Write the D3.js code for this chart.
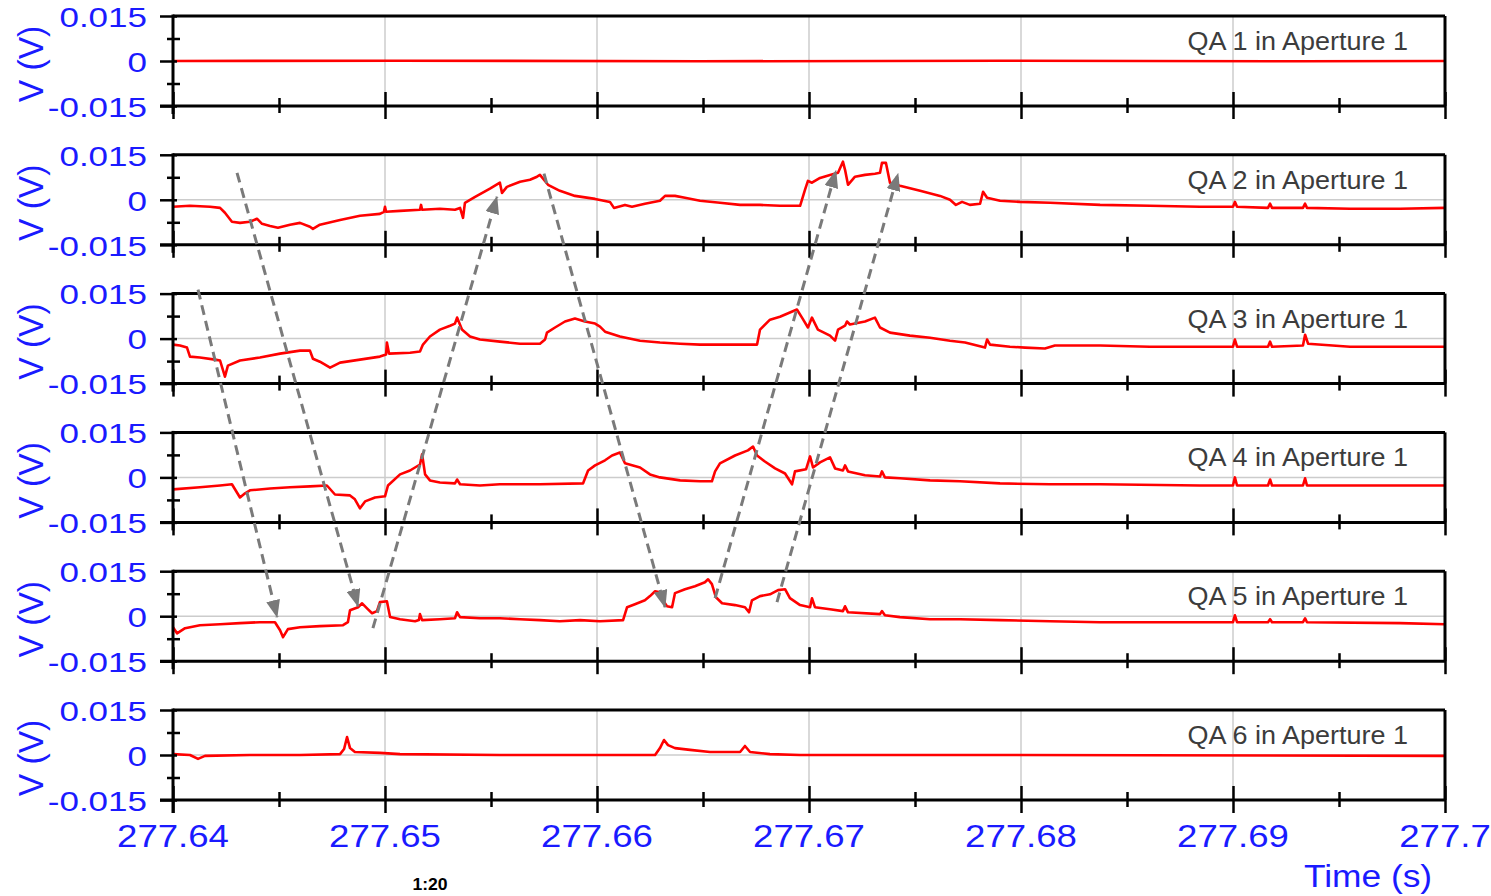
<!DOCTYPE html>
<html>
<head>
<meta charset="utf-8">
<script src="https://cdn.jsdelivr.net/npm/d3@7"></script>
<style>
  html, body { margin: 0; padding: 0; background: #fff; overflow: hidden; }
  svg { display: block; font-family: "Liberation Sans", Arial, sans-serif; }
</style>
</head>
<body>
<svg id="chart" width="1491" height="896"></svg>
<script>
// ---- data -------------------------------------------------------------
const timeDomain = [277.64, 277.70];
const timeMajorTicks = [277.64, 277.65, 277.66, 277.67, 277.68, 277.69, 277.70];
const timeMinorTicks = [277.645, 277.655, 277.665, 277.675, 277.685, 277.695];
const timeTickLabels = ["277.64", "277.65", "277.66", "277.67", "277.68", "277.69", "277.7"];
const voltDomain = [-0.015, 0.015];
const voltMajorTicks = [-0.015, 0, 0.015];
const voltMinorTicks = [-0.0075, 0.0075];
const voltTickLabels = ["-0.015", "0", "0.015"];
const panelNames = ["QA 1 in Aperture 1", "QA 2 in Aperture 1", "QA 3 in Aperture 1",
                    "QA 4 in Aperture 1", "QA 5 in Aperture 1", "QA 6 in Aperture 1"];
const yAxisTitle = "V (V)";
const xAxisTitle = "Time (s)";
const scaleNote = "1:20";

// probe voltages, [time (s), volts]
const qa1 = [
  [277.64000, 0.0000], [277.65071, 0.0001], [277.66486, -0.0001], [277.67901, 0.0001],
  [277.69316, -0.0001], [277.70000, 0.0000]
];
const qa2 = [
  [277.64000, -0.0023], [277.64080, -0.0020], [277.64175, -0.0023], [277.64222, -0.0027],
  [277.64245, -0.0043], [277.64278, -0.0073], [277.64316, -0.0077], [277.64363, -0.0073],
  [277.64396, -0.0063], [277.64420, -0.0080], [277.64458, -0.0087], [277.64495, -0.0093],
  [277.64552, -0.0083], [277.64599, -0.0077], [277.64646, -0.0090], [277.64660, -0.0097],
  [277.64693, -0.0083], [277.64788, -0.0067], [277.64882, -0.0053], [277.64976, -0.0047],
  [277.64995, -0.0040], [277.65000, -0.0023], [277.65005, -0.0040], [277.65071, -0.0037],
  [277.65165, -0.0033], [277.65170, -0.0017], [277.65175, -0.0033], [277.65259, -0.0030],
  [277.65330, -0.0033], [277.65354, -0.0027], [277.65368, -0.0060], [277.65377, -0.0010],
  [277.65425, 0.0010], [277.65495, 0.0037], [277.65542, 0.0057], [277.65552, 0.0023],
  [277.65575, 0.0043], [277.65637, 0.0060], [277.65684, 0.0067], [277.65717, 0.0077],
  [277.65731, 0.0083], [277.65769, 0.0050], [277.65825, 0.0030], [277.65896, 0.0013],
  [277.65991, 0.0003], [277.66061, -0.0007], [277.66080, -0.0027], [277.66132, -0.0017],
  [277.66165, -0.0023], [277.66226, -0.0013], [277.66297, -0.0003], [277.66321, 0.0013],
  [277.66368, 0.0013], [277.66415, 0.0007], [277.66486, -0.0003], [277.66580, -0.0010],
  [277.66675, -0.0017], [277.66769, -0.0017], [277.66863, -0.0020], [277.66958, -0.0020],
  [277.66981, 0.0033], [277.66995, 0.0063], [277.67014, 0.0057], [277.67052, 0.0073],
  [277.67099, 0.0083], [277.67137, 0.0090], [277.67160, 0.0127], [277.67170, 0.0100],
  [277.67184, 0.0050], [277.67217, 0.0077], [277.67264, 0.0083], [277.67311, 0.0087],
  [277.67335, 0.0090], [277.67344, 0.0123], [277.67363, 0.0123], [277.67382, 0.0057],
  [277.67429, 0.0047], [277.67524, 0.0030], [277.67618, 0.0013], [277.67665, 0.0000],
  [277.67693, -0.0017], [277.67722, -0.0007], [277.67759, -0.0017], [277.67807, -0.0013],
  [277.67821, 0.0027], [277.67840, 0.0007], [277.67901, -0.0003], [277.67995, -0.0007],
  [277.68137, -0.0010], [277.68373, -0.0017], [277.68608, -0.0020], [277.68844, -0.0023],
  [277.69000, -0.0023], [277.69009, -0.0007], [277.69019, -0.0023], [277.69165, -0.0027],
  [277.69175, -0.0013], [277.69184, -0.0027], [277.69330, -0.0027], [277.69340, -0.0013],
  [277.69349, -0.0027], [277.69552, -0.0030], [277.69788, -0.0030], [277.70000, -0.0027]
];
const qa3 = [
  [277.64000, -0.0020], [277.64033, -0.0023], [277.64066, -0.0030], [277.64080, -0.0060],
  [277.64127, -0.0063], [277.64198, -0.0070], [277.64222, -0.0073], [277.64245, -0.0127],
  [277.64259, -0.0090], [277.64316, -0.0073], [277.64410, -0.0063], [277.64505, -0.0050],
  [277.64599, -0.0040], [277.64646, -0.0040], [277.64660, -0.0067], [277.64693, -0.0077],
  [277.64741, -0.0097], [277.64788, -0.0080], [277.64882, -0.0070], [277.64976, -0.0060],
  [277.65005, -0.0053], [277.65009, -0.0013], [277.65019, -0.0050], [277.65118, -0.0047],
  [277.65165, -0.0043], [277.65179, -0.0020], [277.65212, 0.0007], [277.65259, 0.0030],
  [277.65307, 0.0043], [277.65330, 0.0050], [277.65340, 0.0070], [277.65363, 0.0030],
  [277.65401, 0.0007], [277.65448, -0.0003], [277.65542, -0.0010], [277.65637, -0.0017],
  [277.65731, -0.0017], [277.65755, -0.0003], [277.65764, 0.0020], [277.65802, 0.0037],
  [277.65849, 0.0057], [277.65896, 0.0067], [277.65943, 0.0057], [277.65991, 0.0050],
  [277.66014, 0.0040], [277.66038, 0.0023], [277.66108, 0.0007], [277.66203, -0.0007],
  [277.66297, -0.0013], [277.66392, -0.0017], [277.66486, -0.0020], [277.66627, -0.0020],
  [277.66755, -0.0020], [277.66769, 0.0030], [277.66816, 0.0063], [277.66863, 0.0073],
  [277.66910, 0.0087], [277.66943, 0.0097], [277.66967, 0.0070], [277.66995, 0.0037],
  [277.67014, 0.0070], [277.67042, 0.0030], [277.67099, 0.0010], [277.67123, -0.0007],
  [277.67137, 0.0030], [277.67170, 0.0043], [277.67179, 0.0057], [277.67193, 0.0047],
  [277.67264, 0.0057], [277.67311, 0.0070], [277.67335, 0.0037], [277.67382, 0.0020],
  [277.67476, 0.0010], [277.67571, 0.0003], [277.67665, -0.0007], [277.67736, -0.0013],
  [277.67830, -0.0030], [277.67840, -0.0003], [277.67854, -0.0020], [277.67948, -0.0027],
  [277.68019, -0.0030], [277.68113, -0.0033], [277.68160, -0.0023], [277.68373, -0.0023],
  [277.68608, -0.0027], [277.68844, -0.0027], [277.69000, -0.0027], [277.69009, -0.0003],
  [277.69019, -0.0027], [277.69165, -0.0027], [277.69175, -0.0010], [277.69184, -0.0027],
  [277.69330, -0.0023], [277.69340, 0.0013], [277.69354, -0.0017], [277.69552, -0.0027],
  [277.69788, -0.0027], [277.70000, -0.0027]
];
const qa4 = [
  [277.64000, -0.0040], [277.64127, -0.0033], [277.64222, -0.0027], [277.64278, -0.0023],
  [277.64316, -0.0067], [277.64340, -0.0053], [277.64363, -0.0043], [277.64458, -0.0037],
  [277.64552, -0.0033], [277.64646, -0.0030], [277.64726, -0.0027], [277.64764, -0.0057],
  [277.64835, -0.0060], [277.64858, -0.0073], [277.64882, -0.0103], [277.64906, -0.0080],
  [277.64953, -0.0067], [277.65000, -0.0063], [277.65014, -0.0027], [277.65071, 0.0010],
  [277.65118, 0.0023], [277.65165, 0.0043], [277.65175, 0.0077], [277.65189, 0.0010],
  [277.65212, -0.0010], [277.65259, -0.0017], [277.65330, -0.0020], [277.65340, -0.0007],
  [277.65354, -0.0023], [277.65448, -0.0027], [277.65542, -0.0023], [277.65731, -0.0023],
  [277.65934, -0.0020], [277.65958, 0.0023], [277.65991, 0.0040], [277.66038, 0.0057],
  [277.66071, 0.0073], [277.66108, 0.0083], [277.66132, 0.0047], [277.66203, 0.0033],
  [277.66250, 0.0010], [277.66297, 0.0000], [277.66392, -0.0010], [277.66486, -0.0013],
  [277.66542, -0.0013], [277.66557, 0.0020], [277.66580, 0.0047], [277.66651, 0.0073],
  [277.66712, 0.0090], [277.66736, 0.0103], [277.66755, 0.0073], [277.66792, 0.0053],
  [277.66840, 0.0030], [277.66887, 0.0013], [277.66920, -0.0023], [277.66934, 0.0020],
  [277.66986, 0.0027], [277.67005, 0.0070], [277.67019, 0.0033], [277.67052, 0.0050],
  [277.67099, 0.0067], [277.67123, 0.0030], [277.67160, 0.0023], [277.67170, 0.0040],
  [277.67184, 0.0020], [277.67264, 0.0007], [277.67335, 0.0003], [277.67344, 0.0020],
  [277.67358, 0.0000], [277.67429, -0.0003], [277.67571, -0.0010], [277.67712, -0.0013],
  [277.67901, -0.0020], [277.68137, -0.0023], [277.68373, -0.0023], [277.68844, -0.0027],
  [277.69000, -0.0027], [277.69009, 0.0000], [277.69019, -0.0027], [277.69165, -0.0027],
  [277.69175, -0.0007], [277.69184, -0.0027], [277.69330, -0.0027], [277.69340, -0.0003],
  [277.69349, -0.0027], [277.70000, -0.0027]
];
const qa5 = [
  [277.64000, -0.0037], [277.64019, -0.0057], [277.64057, -0.0040], [277.64127, -0.0030],
  [277.64222, -0.0027], [277.64316, -0.0023], [277.64410, -0.0020], [277.64481, -0.0020],
  [277.64505, -0.0047], [277.64519, -0.0070], [277.64542, -0.0043], [277.64599, -0.0037],
  [277.64693, -0.0033], [277.64802, -0.0030], [277.64825, -0.0020], [277.64835, 0.0020],
  [277.64873, 0.0030], [277.64892, 0.0043], [277.64920, 0.0023], [277.64939, 0.0010],
  [277.64962, 0.0017], [277.64976, 0.0047], [277.65009, 0.0050], [277.65024, -0.0003],
  [277.65071, -0.0010], [277.65142, -0.0017], [277.65160, -0.0013], [277.65165, 0.0007],
  [277.65175, -0.0013], [277.65259, -0.0010], [277.65330, -0.0007], [277.65340, 0.0013],
  [277.65354, -0.0003], [277.65448, -0.0007], [277.65542, -0.0007], [277.65637, -0.0010],
  [277.65731, -0.0013], [277.65825, -0.0017], [277.65920, -0.0013], [277.66014, -0.0017],
  [277.66123, -0.0013], [277.66142, 0.0030], [277.66179, 0.0040], [277.66226, 0.0053],
  [277.66250, 0.0067], [277.66274, 0.0083], [277.66297, 0.0080], [277.66311, 0.0053],
  [277.66330, 0.0033], [277.66354, 0.0030], [277.66368, 0.0077], [277.66415, 0.0090],
  [277.66462, 0.0100], [277.66509, 0.0113], [277.66524, 0.0123], [277.66542, 0.0107],
  [277.66561, 0.0063], [277.66590, 0.0043], [277.66651, 0.0037], [277.66698, 0.0030],
  [277.66717, 0.0013], [277.66731, 0.0053], [277.66769, 0.0067], [277.66816, 0.0073],
  [277.66854, 0.0087], [277.66887, 0.0090], [277.66910, 0.0060], [277.66958, 0.0037],
  [277.67005, 0.0030], [277.67014, 0.0060], [277.67028, 0.0030], [277.67099, 0.0023],
  [277.67160, 0.0017], [277.67170, 0.0033], [277.67184, 0.0013], [277.67335, 0.0007],
  [277.67344, 0.0017], [277.67358, 0.0003], [277.67429, -0.0003], [277.67571, -0.0010],
  [277.67712, -0.0010], [277.67901, -0.0013], [277.68137, -0.0017], [277.68373, -0.0020],
  [277.68844, -0.0020], [277.69000, -0.0020], [277.69009, 0.0003], [277.69019, -0.0020],
  [277.69165, -0.0020], [277.69175, -0.0010], [277.69184, -0.0020], [277.69330, -0.0020],
  [277.69340, -0.0007], [277.69349, -0.0020], [277.69788, -0.0023], [277.70000, -0.0027]
];
const qa6 = [
  [277.64000, 0.0003], [277.64080, 0.0000], [277.64118, -0.0013], [277.64151, -0.0003],
  [277.64363, 0.0000], [277.64599, 0.0000], [277.64788, 0.0003], [277.64807, 0.0020],
  [277.64821, 0.0060], [277.64835, 0.0023], [277.64858, 0.0010], [277.64976, 0.0007],
  [277.65071, 0.0003], [277.65542, 0.0000], [277.66014, 0.0000], [277.66274, 0.0000],
  [277.66297, 0.0023], [277.66316, 0.0050], [277.66335, 0.0033], [277.66368, 0.0023],
  [277.66439, 0.0017], [277.66533, 0.0010], [277.66675, 0.0010], [277.66698, 0.0030],
  [277.66722, 0.0010], [277.66816, 0.0003], [277.66958, 0.0000], [277.67901, 0.0000],
  [277.70000, -0.0003]
];
const traces = [qa1, qa2, qa3, qa4, qa5, qa6];

// dashed propagation arrows: [time, panel index, volts] -> [time, panel index, volts]
const arrowStarts = [
  [277.64118, 2, 0.0163], [277.64302, 1, 0.0090], [277.64943, 4, -0.0040],
  [277.65750, 1, 0.0087], [277.66557, 4, 0.0060], [277.66849, 4, 0.0047]
];
const arrowEnds = [
  [277.64491, 4, -0.0003], [277.64873, 4, 0.0033], [277.65528, 1, 0.0010],
  [277.66321, 4, 0.0030], [277.67127, 1, 0.0097], [277.67420, 1, 0.0087]
];

// ---- layout -----------------------------------------------------------
const svg = d3.select("#chart");
const plotLeft = 173, plotRight = 1445;
const panelTop0 = 16, panelStep = 138.8, panelHeight = 90;
const blue = "#1a1aff";

const x = d3.scaleLinear().domain(timeDomain).range([plotLeft, plotRight]);
const yScales = panelNames.map((_, i) => {
  const top = panelTop0 + i * panelStep;
  return d3.scaleLinear().domain(voltDomain).range([top + panelHeight, top]);
});

// horizontally stretched text helper
function stretchedText(parent, tx, ty, str, size, sx, opts = {}) {
  return parent.append("text")
    .attr("transform", `translate(${tx},${ty}) scale(${sx},${opts.sy || 1})`)
    .attr("font-size", size)
    .attr("text-anchor", opts.anchor || "start")
    .attr("dominant-baseline", opts.baseline || "alphabetic")
    .attr("fill", opts.fill || blue)
    .attr("font-weight", opts.weight || "normal")
    .text(str);
}

const line = (y) => d3.line().x(d => x(d[0])).y(d => y(d[1]));

panelNames.forEach((name, i) => {
  const y = yScales[i];
  const top = y.range()[1], bottom = y.range()[0];
  const g = svg.append("g");

  // grid
  g.selectAll("line.vgrid").data(timeMajorTicks.slice(1, -1)).join("line")
    .attr("x1", d => x(d)).attr("x2", d => x(d))
    .attr("y1", top).attr("y2", bottom)
    .attr("stroke", "#cccccc").attr("stroke-width", 1.5);
  g.append("line")
    .attr("x1", plotLeft).attr("x2", plotRight)
    .attr("y1", y(0)).attr("y2", y(0))
    .attr("stroke", "#cccccc").attr("stroke-width", 1.5);

  // panel label
  stretchedText(g, 1408, top + 34, name, 25, 1.08, { anchor: "end", fill: "#3c3c3c" });

  // trace
  g.append("path").datum(traces[i])
    .attr("d", line(y))
    .attr("fill", "none")
    .attr("stroke", "#ff0000")
    .attr("stroke-width", 2.6)
    .attr("stroke-linejoin", "round");

  // frame
  g.append("line").attr("x1", plotLeft).attr("x2", plotRight).attr("y1", top).attr("y2", top)
    .attr("stroke", "#000").attr("stroke-width", 3);
  g.append("line").attr("x1", plotLeft - 13).attr("x2", plotRight).attr("y1", bottom).attr("y2", bottom)
    .attr("stroke", "#000").attr("stroke-width", 3);
  g.append("line").attr("x1", plotRight).attr("x2", plotRight).attr("y1", top).attr("y2", bottom)
    .attr("stroke", "#000").attr("stroke-width", 3);

  // left axis
  const yAxisMajor = d3.axisLeft(y).tickValues(voltMajorTicks).tickSize(13).tickFormat("");
  const yAxisMinor = d3.axisLeft(y).tickValues(voltMinorTicks).tickSize(6).tickFormat("");
  const ga = g.append("g").attr("transform", `translate(${plotLeft},0)`);
  ga.call(yAxisMajor);
  ga.append("g").call(yAxisMinor);
  ga.selectAll(".domain").remove();
  ga.selectAll(".tick line").attr("stroke", "#000").attr("stroke-width", 2.5)
    .attr("x1", function () { return Math.abs(+d3.select(this).attr("x2")) > 8 ? 4 : 7; });
  g.append("line").attr("x1", plotLeft).attr("x2", plotLeft).attr("y1", top - 1.5)
    .attr("y2", i === panelNames.length - 1 ? bottom + 13 : bottom + 8)
    .attr("stroke", "#000").attr("stroke-width", 3);

  // bottom axis ticks (crossing)
  const gx = g.append("g").attr("transform", `translate(0,${bottom})`);
  gx.call(d3.axisBottom(x).tickValues(timeMajorTicks).tickSize(13).tickFormat(""));
  gx.append("g").call(d3.axisBottom(x).tickValues(timeMinorTicks).tickSize(7).tickFormat(""));
  gx.selectAll(".domain").remove();
  gx.selectAll(".tick line").attr("stroke", "#000").attr("stroke-width", 2.5)
    .attr("y1", function () { return -(+d3.select(this).attr("y2")) - 1; });

  // volt tick labels
  voltMajorTicks.forEach((v, k) => {
    stretchedText(g, 147, y(v) + 1, voltTickLabels[k], 28, 1.25, { anchor: "end", baseline: "central" });
  });

  // y axis title
  g.append("text")
    .attr("transform", `translate(31,${y(0) + 3}) rotate(-90) scale(1.2,1.25)`)
    .attr("font-size", 28)
    .attr("text-anchor", "middle")
    .attr("dominant-baseline", "central")
    .attr("fill", blue)
    .text(yAxisTitle);
});

// time tick labels below the last panel
const lastBottom = yScales[yScales.length - 1].range()[0];
timeMajorTicks.forEach((t, k) => {
  stretchedText(svg, x(t), lastBottom + 47, timeTickLabels[k], 31, 1.18, { anchor: "middle" });
});
stretchedText(svg, 1368, lastBottom + 87, xAxisTitle, 31, 1.14, { anchor: "middle" });
stretchedText(svg, 430, lastBottom + 90, scaleNote, 16, 1.1, { anchor: "middle", fill: "#000", weight: "bold" });

// dashed arrows
svg.append("defs").append("marker")
  .attr("id", "head").attr("markerUnits", "userSpaceOnUse")
  .attr("viewBox", "0 0 18 14").attr("markerWidth", 18).attr("markerHeight", 14)
  .attr("refX", 17).attr("refY", 7).attr("orient", "auto")
  .append("path").attr("d", "M0,0 L18,7 L0,14 Z").attr("fill", "#7a7a7a");

const pt = (p) => [x(p[0]), yScales[p[1]](p[2])];
svg.append("g").selectAll("line").data(d3.range(arrowStarts.length)).join("line")
  .attr("x1", k => pt(arrowStarts[k])[0]).attr("y1", k => pt(arrowStarts[k])[1])
  .attr("x2", k => pt(arrowEnds[k])[0]).attr("y2", k => pt(arrowEnds[k])[1])
  .attr("stroke", "#7a7a7a").attr("stroke-width", 3)
  .attr("stroke-dasharray", "10,6")
  .attr("marker-end", "url(#head)");
</script>
</body>
</html>
